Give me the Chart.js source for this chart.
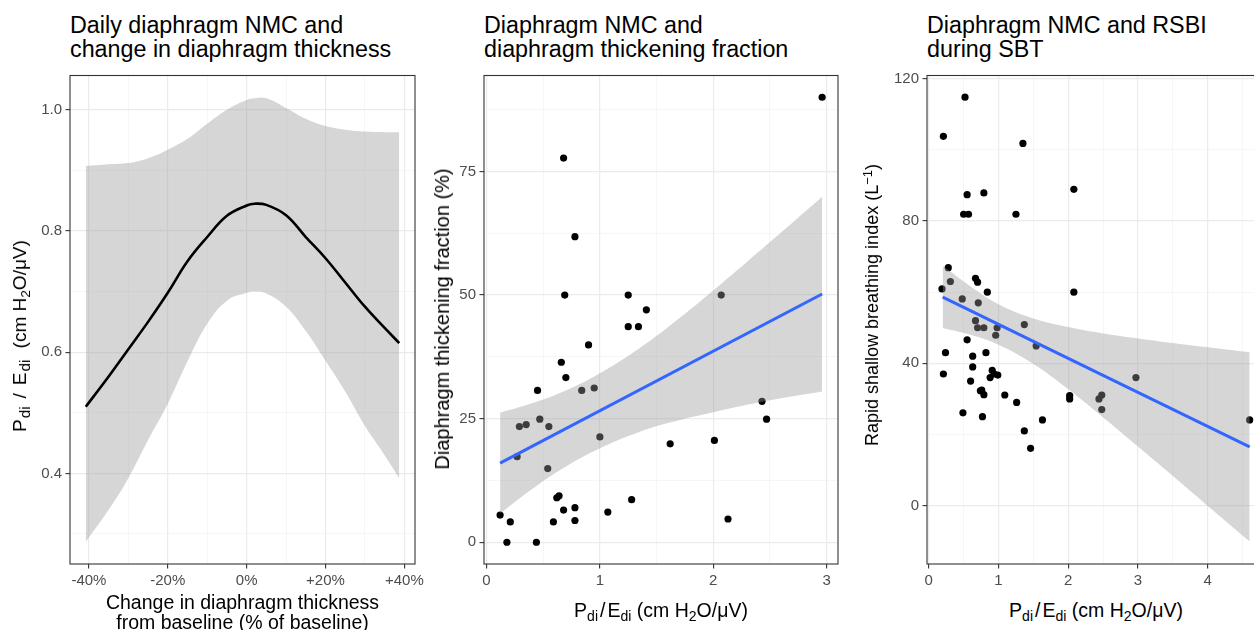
<!DOCTYPE html>
<html><head><meta charset="utf-8">
<script src="https://cdn.jsdelivr.net/npm/chart.js@4.4.1/dist/chart.umd.min.js"></script>
<style>
html,body{margin:0;padding:0;overflow:hidden;background:#fff;width:1254px;height:630px;}
body{position:relative;font-family:"Liberation Sans",Arial,Helvetica,sans-serif;color:#000;}
canvas{position:absolute;}
.title{position:absolute;top:13px;font-size:23.3px;line-height:24px;white-space:nowrap;}
.xt{position:absolute;transform:translateX(-50%);text-align:center;white-space:nowrap;line-height:20px;}
.yt{position:absolute;transform:translate(-50%,-50%) rotate(-90deg);white-space:nowrap;line-height:20px;}
sub{font-size:0.72em;vertical-align:-0.28em;line-height:0;}
sup{font-size:0.72em;vertical-align:0.5em;line-height:0;}
.sl{margin:0 2px;}
.wide sub{font-size:0.8em;margin-left:1px;}
.wide .sl{margin:0 8px;}
.wide .gp{margin-left:6px;}
</style></head><body>
<canvas id="c1" width="410" height="531" style="left:20px;top:63px"></canvas>
<canvas id="c2" width="416" height="531" style="left:434px;top:63px"></canvas>
<canvas id="c3" width="398" height="531" style="left:877px;top:63px"></canvas>

<div class="title" style="left:70px">Daily diaphragm NMC and<br>change in diaphragm thickness</div>
<div class="title" style="left:484px">Diaphragm NMC and<br>diaphragm thickening fraction</div>
<div class="title" style="left:927px">Diaphragm NMC and RSBI<br>during SBT</div>

<div class="xt" style="left:242.5px;top:592px;font-size:19.5px">Change in diaphragm thickness<br>from baseline (% of baseline)</div>
<div class="xt" style="left:661px;top:600px;font-size:19.5px">P<sub>di</sub><span class="sl">/</span>E<sub>di</sub> (cm H<sub>2</sub>O/μV)</div>
<div class="xt" style="left:1096px;top:600px;font-size:19.5px">P<sub>di</sub><span class="sl">/</span>E<sub>di</sub> (cm H<sub>2</sub>O/μV)</div>

<div class="yt wide" style="left:20px;top:336px;font-size:19px">P<sub>di</sub><span class="sl">/</span>E<sub>di</sub><span class="gp"> </span>(cm H<sub style="margin-left:0;font-size:0.72em">2</sub>O/μV)</div>
<div class="yt" style="left:442px;top:318.5px;font-size:20px">Diaphragm thickening fraction (%)</div>
<div class="yt" style="left:872px;top:305px;font-size:18px">Rapid shallow breathing index (L<sup>−1</sup>)</div>

<script>
// ---------- Panel 1: spline of NMC vs change in thickness ----------
const thickChange = [-40.8,-35,-30,-25,-20,-15,-10,-5,0,2,5,10,15,20,25,30,35,38.7];
const nmcFit      = [0.51,0.56,0.605,0.65,0.698,0.75,0.79,0.825,0.842,0.845,0.843,0.826,0.79,0.755,0.715,0.675,0.64,0.615];
const nmcUpper    = [0.907,0.910,0.912,0.92,0.934,0.952,0.977,1.0,1.016,1.019,1.019,1.003,0.985,0.973,0.967,0.964,0.963,0.963];
const nmcLower    = [0.287,0.34,0.392,0.455,0.515,0.585,0.647,0.685,0.698,0.70,0.697,0.675,0.635,0.586,0.535,0.478,0.43,0.392];
const p1XMajor = [-40,-20,0,20,40], p1XMinor = [-30,-10,10,30];
const p1XLabels = ['-40%','-20%','0%','+20%','+40%'];
const p1YMajor = [0.4,0.6,0.8,1.0], p1YMinor = [0.3,0.5,0.7,0.9];
const p1YLabels = ['0.4','0.6','0.8','1.0'];

// ---------- Panel 2: NMC vs thickening fraction ----------
const tfNmc  = [2.96,0.68,0.78,0.69,1.25,2.07,1.41,1.25,1.34,0.90,0.66,0.70,0.45,0.84,0.95,2.43,2.47,0.47,0.29,0.35,0.55,1.00,1.62,2.01,0.27,0.54,0.64,0.62,1.28,0.78,0.68,1.07,0.12,2.13,0.21,0.59,0.78,0.18,0.44];
const tfVal  = [90,77.7,61.8,50,50,50,47,43.6,43.6,39.9,36.4,33.3,30.7,30.7,31.2,28.5,24.9,24.9,23.4,23.8,23.4,21.3,19.9,20.6,17.3,14.9,9.4,9.0,8.6,7.0,6.5,6.1,5.5,4.7,4.1,4.1,4.4,0,0];
const tfFitX = [0.12,2.96], tfFitY = [16.0,50.2];
const tfBandX     = [0.12,0.4,0.7,1.0,1.3,1.6,2.0,2.5,2.96];
const tfBandUpper = [26.2,28.1,30.7,34.2,38.5,43.5,50.9,60.7,69.9];
const tfBandLower = [5.8,10.7,15.3,19.0,21.9,24.1,26.3,28.7,30.5];
const p2XMajor = [0,1,2,3], p2XMinor = [0.5,1.5,2.5];
const p2XLabels = ['0','1','2','3'];
const p2YMajor = [0,25,50,75], p2YMinor = [12.5,37.5,62.5,87.5];
const p2YLabels = ['0','25','50','75'];

// ---------- Panel 3: NMC vs RSBI ----------
const rsbiNmc = [0.52,0.21,1.35,0.55,0.79,2.08,0.50,0.57,1.25,0.28,0.31,0.19,0.67,0.70,0.84,2.08,0.48,0.71,0.67,0.70,0.79,0.98,0.96,1.37,0.55,1.54,0.24,0.63,0.82,0.21,0.63,0.60,0.88,0.91,0.94,0.99,0.74,0.79,0.76,1.09,1.26,2.02,2.02,2.44,2.48,2.48,2.97,0.49,0.77,1.63,4.60,1.37,1.46];
const rsbiVal = [114.8,103.8,101.8,87.4,87.9,88.9,81.9,81.9,81.9,66.9,63.0,60.9,63.9,62.8,60.0,60.0,58.1,57.0,52.0,50.0,50.0,50.0,47.9,50.9,46.6,44.9,43.0,42.0,43.0,37.0,39.0,35.0,36.0,38.0,37.0,36.7,32.3,31.2,32.5,31.1,29.0,30.9,30.0,30.0,31.1,27.0,36.0,26.1,25.0,24.1,24.1,21.0,16.1];
const rsbiFitX = [0.2,4.6], rsbiFitY = [58.6,16.5];
const rsbiBandX     = [0.2,0.6,1.0,1.5,2.0,2.5,3.0,3.5,4.0,4.6];
const rsbiBandUpper = [67.4,61.6,56.6,52.6,50.2,48.4,47.0,45.7,44.5,43.1];
const rsbiBandLower = [49.9,48.0,45.2,39.8,32.7,24.8,16.6,8.3,-0.1,-10.1];
const p3XMajor = [0,1,2,3,4], p3XMinor = [0.5,1.5,2.5,3.5,4.5];
const p3XLabels = ['0','1','2','3','4'];
const p3YMajor = [0,40,80,120], p3YMinor = [20,60,100];
const p3YLabels = ['0','40','80','120'];

const FONT = '"Liberation Sans", Arial, Helvetica, sans-serif';
const BAND = 'rgba(153,153,153,0.4)';
const pts = (xs, ys) => xs.map((x, i) => ({x: x, y: ys[i]}));

function axis(min, max, major, minor, labels, isX) {
  const all = major.concat(minor).sort((a, b) => a - b);
  const isMajor = v => major.indexOf(v) >= 0;
  return {
    type: 'linear', min: min, max: max,
    afterBuildTicks: s => { s.ticks = all.filter(v => v >= min && v <= max).map(v => ({value: v})); },
    afterFit: s => { if (isX) s.height = 30; else s.width = 50; },
    ticks: {
      autoSkip: false, maxRotation: 0, minRotation: 0, padding: isX ? 3 : 3.5,
      color: '#4d4d4d', font: {size: 15, family: FONT},
      callback: v => isMajor(v) ? labels[major.indexOf(v)] : ''
    },
    grid: {
      drawTicks: true, tickLength: 4.5, tickWidth: 1.1,
      color: c => (c.tick && isMajor(c.tick.value)) ? '#ebebeb' : '#f0f0f0',
      lineWidth: c => (c.tick && isMajor(c.tick.value)) ? 1.2 : 0.6,
      tickColor: c => (c.tick && isMajor(c.tick.value)) ? '#333333' : 'rgba(0,0,0,0)'
    },
    border: {display: false}
  };
}

const frame = {
  id: 'frame',
  afterDraw(chart) {
    const a = chart.chartArea, ctx = chart.ctx;
    ctx.save();
    ctx.strokeStyle = '#333333';
    ctx.lineWidth = 1.1;
    ctx.strokeRect(a.left, a.top, a.right - a.left, a.bottom - a.top);
    ctx.restore();
  }
};

function make(id, datasets, xs, ys, padRight) {
  return new Chart(document.getElementById(id), {
    type: 'scatter',
    data: {datasets: datasets},
    options: {
      responsive: false, animation: false, devicePixelRatio: 1, events: [],
      layout: {padding: {top: 10, right: padRight, left: 0, bottom: 0}},
      plugins: {legend: {display: false}, tooltip: {enabled: false}},
      scales: {x: xs, y: ys}
    },
    plugins: [frame]
  });
}

const lineDs = (data, color, w, smooth) => ({
  type: 'line', data: data, borderColor: color, borderWidth: w, pointRadius: 0,
  fill: false, tension: smooth ? 0.4 : 0, borderCapStyle: 'butt'
});
const bandUp = data => ({type: 'line', data: data, borderWidth: 0, borderColor: 'rgba(0,0,0,0)', pointRadius: 0, fill: '+1', backgroundColor: BAND, tension: 0.4});
const bandLo = data => ({type: 'line', data: data, borderWidth: 0, borderColor: 'rgba(0,0,0,0)', pointRadius: 0, fill: false, tension: 0.4});
const scatterDs = data => ({type: 'scatter', data: data, pointRadius: 3.6, backgroundColor: '#000000', borderWidth: 0});

make('c1', [
  lineDs(pts(thickChange, nmcFit), '#000000', 2.6, true),
  bandUp(pts(thickChange, nmcUpper)),
  bandLo(pts(thickChange, nmcLower))
], axis(-44.8, 42.7, p1XMajor, p1XMinor, p1XLabels, true),
   axis(0.2505, 1.0565, p1YMajor, p1YMinor, p1YLabels, false), 15);

make('c2', [
  lineDs(pts(tfFitX, tfFitY), '#3366FF', 3, false),
  bandUp(pts(tfBandX, tfBandUpper)),
  bandLo(pts(tfBandX, tfBandLower)),
  scatterDs(pts(tfNmc, tfVal))
], axis(-0.022, 3.10, p2XMajor, p2XMinor, p2XLabels, true),
   axis(-4.4, 94.4, p2YMajor, p2YMinor, p2YLabels, false), 12);

make('c3', [
  lineDs(pts(rsbiFitX, rsbiFitY), '#3366FF', 3, false),
  bandUp(pts(rsbiBandX, rsbiBandUpper)),
  bandLo(pts(rsbiBandX, rsbiBandLower)),
  scatterDs(pts(rsbiNmc, rsbiVal))
], axis(-0.025, 4.82, p3XMajor, p3XMinor, p3XLabels, true),
   axis(-16.4, 120.9, p3YMajor, p3YMinor, p3YLabels, false), 10);
</script>
</body></html>
